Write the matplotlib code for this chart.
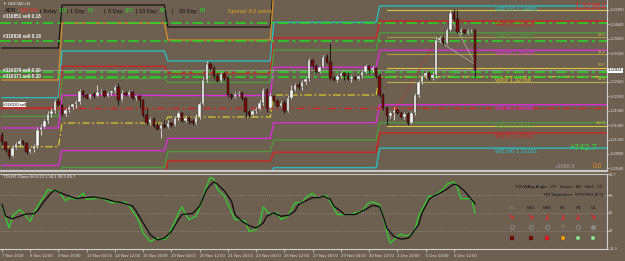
import numpy as np
import matplotlib
matplotlib.use("Agg")
import matplotlib.pyplot as plt

plt.rcParams['font.family'] = ['Liberation Sans', 'DejaVu Sans']

# ------------------------------------------------------------------ data
symbol = "USDCAD,H4"
first_open = 1.31351
closes = [1.31180, 1.30986, 1.30840, 1.31035, 1.31132, 1.31205, 1.31156, 1.30937, 1.31010, 1.31083,
          1.31472, 1.31545, 1.31691, 1.31861, 1.31934, 1.32177, 1.32080, 1.31861, 1.31958, 1.32031,
          1.32104, 1.32153, 1.32420, 1.32323, 1.32250, 1.32347, 1.32298, 1.32395, 1.32420, 1.32298,
          1.32371, 1.32420, 1.32517, 1.32201, 1.32371, 1.32323, 1.32395, 1.32250, 1.32298, 1.32201,
          1.31837, 1.31642, 1.31739, 1.31569, 1.31496, 1.31594, 1.31545, 1.31642, 1.31594, 1.31764,
          1.31885, 1.31691, 1.31764, 1.31691, 1.31642, 1.31788, 1.32104, 1.32687, 1.33076, 1.32979,
          1.32784, 1.32663, 1.32833, 1.32736, 1.32323, 1.32274, 1.32347, 1.32371, 1.32250, 1.31909,
          1.31837, 1.31934, 1.31982, 1.32128, 1.32444, 1.32007, 1.32298, 1.32177, 1.32055, 1.32128,
          1.31934, 1.32250, 1.32444, 1.32566, 1.32517, 1.32638, 1.32711, 1.33173, 1.33027, 1.32881,
          1.33003, 1.33246, 1.33124, 1.32736, 1.32687, 1.32784, 1.32857, 1.32784, 1.32711, 1.32760,
          1.32711, 1.32784, 1.32881, 1.33027, 1.32930, 1.32979, 1.32784, 1.32323, 1.32007, 1.31812,
          1.31885, 1.31958, 1.31885, 1.31788, 1.31861, 1.31642, 1.31885, 1.32323, 1.32638, 1.32784,
          1.32857, 1.32736, 1.32809, 1.33659, 1.33708, 1.33586, 1.33902, 1.34315, 1.34169, 1.33853,
          1.33902, 1.33829, 1.33878, 1.33902, 1.32930]
highs = [1.31423, 1.31205, 1.31035, 1.31107, 1.31180, 1.31253, 1.31229, 1.31180, 1.31035, 1.31132,
         1.31545, 1.31618, 1.31739, 1.31934, 1.32007, 1.32226, 1.32250, 1.32104, 1.32007, 1.32080,
         1.32128, 1.32201, 1.32468, 1.32444, 1.32347, 1.32371, 1.32395, 1.32566, 1.32468, 1.32444,
         1.32420, 1.32444, 1.32566, 1.32614, 1.32444, 1.32420, 1.32444, 1.32420, 1.32323, 1.32323,
         1.32226, 1.32007, 1.31788, 1.31788, 1.31666, 1.31642, 1.31715, 1.31715, 1.31666, 1.31812,
         1.31934, 1.31909, 1.31812, 1.31812, 1.31739, 1.31861, 1.32153, 1.32760, 1.33149, 1.33124,
         1.33027, 1.32857, 1.32881, 1.32881, 1.32784, 1.32371, 1.32395, 1.32420, 1.32420, 1.32274,
         1.31958, 1.31982, 1.32031, 1.32201, 1.32493, 1.32493, 1.32371, 1.32323, 1.32226, 1.32177,
         1.32201, 1.32323, 1.32566, 1.32614, 1.32638, 1.32687, 1.32760, 1.33222, 1.33197, 1.33076,
         1.33027, 1.33295, 1.33319, 1.33586, 1.32784, 1.32833, 1.32906, 1.32881, 1.32881, 1.32809,
         1.32784, 1.32809, 1.32930, 1.33076, 1.33052, 1.33027, 1.33003, 1.32833, 1.32371, 1.32055,
         1.31934, 1.32031, 1.31982, 1.31934, 1.31909, 1.31909, 1.31934, 1.32371, 1.32687, 1.32833,
         1.32906, 1.32906, 1.32881, 1.33732, 1.33756, 1.33756, 1.33951, 1.34388, 1.34412, 1.34388,
         1.33951, 1.33926, 1.33926, 1.33926, 1.33926]
lows = [1.31107, 1.30937, 1.30767, 1.30816, 1.31010, 1.31083, 1.31107, 1.30889, 1.30913, 1.30937,
        1.31035, 1.31351, 1.31521, 1.31642, 1.31788, 1.31885, 1.32055, 1.31812, 1.31812, 1.31909,
        1.31982, 1.32007, 1.32104, 1.32274, 1.32226, 1.32226, 1.32250, 1.32274, 1.32347, 1.32274,
        1.32274, 1.32323, 1.32371, 1.32080, 1.32177, 1.32298, 1.32298, 1.32201, 1.32201, 1.32007,
        1.31788, 1.31594, 1.31594, 1.31545, 1.31472, 1.31278, 1.31521, 1.31521, 1.31545, 1.31569,
        1.31715, 1.31666, 1.31666, 1.31618, 1.31594, 1.31618, 1.31739, 1.32080, 1.32638, 1.32930,
        1.32736, 1.32638, 1.32638, 1.32687, 1.32274, 1.32226, 1.32250, 1.32298, 1.32201, 1.31788,
        1.31788, 1.31812, 1.31885, 1.31958, 1.32080, 1.31909, 1.31982, 1.32153, 1.32031, 1.32031,
        1.31885, 1.31909, 1.32226, 1.32420, 1.32468, 1.32444, 1.32590, 1.32663, 1.32979, 1.32857,
        1.32857, 1.32979, 1.33100, 1.32687, 1.32663, 1.32638, 1.32736, 1.32687, 1.32687, 1.32638,
        1.32687, 1.32687, 1.32736, 1.32857, 1.32857, 1.32881, 1.32736, 1.32274, 1.31958, 1.31594,
        1.31764, 1.31715, 1.31861, 1.31764, 1.31739, 1.31594, 1.31618, 1.31837, 1.32274, 1.32590,
        1.32736, 1.32687, 1.32687, 1.32736, 1.33610, 1.33538, 1.33562, 1.33878, 1.34121, 1.33829,
        1.33805, 1.33805, 1.33805, 1.33853, 1.32760]

# weekly pivot levels (one value per week; weeks start at these bars)
week_starts = [0, 17, 47, 77, 107]
WR100 = [1.32257, 1.33392, 1.33149, 1.34089, 1.34485]
WR78 = [1.32002, 1.33018, 1.32858, 1.33711, 1.34116]
WR61 = [1.31802, 1.32724, 1.32629, 1.33414, 1.33832]
WR38 = [1.31521, 1.32311, 1.32308, 1.32997, 1.33410]
WPP = [1.31066, 1.31642, 1.31788, 1.32322, 1.32768]
WS38 = [1.30612, 1.30973, 1.31268, 1.31647, 1.32088]
WS61 = [1.30330, 1.30560, 1.30947, 1.31230, 1.31651]
WS78 = [1.30130, 1.30266, 1.30718, 1.30933, 1.31401]
WS100 = [1.29875, 1.29892, 1.30427, 1.30555, 1.31031]
black_level = [1.33465, 1.34510, 1.33975, 1.35120, 1.35120]
orange_level = [1.32687, 1.34072, 1.33659, 1.34870, 1.34870]

order_lines = [1.34079, 1.33642, 1.32889, 1.32748]
order_labels = ["#316851 sell 0.18", "#316836 sell 0.18", "#316379 sell 0.20", "#316371 sell 0.20"]
stop_line = 1.32007
bid = 1.32924

fib_high = 1.34388
fib_low = 1.31576
fib_start = 109
fib_ratios = [0.0, 23.6, 38.2, 50.0, 61.8, 100.0]

price_ticks = [1.34390, 1.34040, 1.33690, 1.33340, 1.32640, 1.32290,
               1.31940, 1.31590, 1.31240, 1.30890, 1.30540]
time_tick_bars = [0, 8, 16, 24, 32, 40, 48, 56, 64, 72, 80, 88, 96, 104, 112, 120, 128]
time_tick_labels = ["7 Nov 2018", "8 Nov 12:00", "9 Nov 20:00", "13 Nov 04:00", "14 Nov 12:00",
                    "15 Nov 20:00", "19 Nov 04:00", "20 Nov 12:00", "21 Nov 20:00", "23 Nov 04:00",
                    "26 Nov 12:00", "27 Nov 20:00", "29 Nov 04:00", "30 Nov 12:00", "3 Dec 20:00",
                    "5 Dec 04:00", "6 Dec 12:00"]

# TDI indicator
tdi_green_bars = [0, 2, 3, 5, 6, 8, 9, 11, 12, 13, 14, 16, 18, 19, 21, 23, 24, 26, 28, 30, 31, 33, 35,
                  36, 38, 39, 40, 42, 43, 44, 46, 47, 49, 50, 51, 52, 53, 55, 56, 58, 59, 60, 61, 63,
                  64, 66, 67, 69, 70, 72, 73, 74, 75, 76, 78, 79, 81, 82, 83, 85, 86, 88, 89, 90, 91,
                  92, 94, 95, 97, 99, 100, 102, 103, 104, 105, 107, 108, 109, 110, 112, 113, 114, 116,
                  117, 118, 120, 121, 122, 123, 125, 126, 128, 129, 130, 132, 133, 134]
tdi_green = [57.0, 34.7, 46.7, 53.6, 50.1, 41.5, 50.1, 62.2, 67.3, 74.2, 72.5, 72.5, 62.2, 65.6, 63.9,
             70.1, 63.9, 64.6, 65.6, 62.2, 60.5, 60.5, 61.2, 57.0, 46.7, 39.8, 29.5, 20.9, 22.6, 24.3,
             22.6, 26.1, 41.5, 50.1, 56.3, 48.4, 43.3, 46.7, 55.3, 77.7, 86.3, 84.5, 74.2, 67.3, 58.7,
             43.3, 43.3, 41.5, 31.2, 32.9, 39.8, 56.3, 51.9, 48.4, 50.1, 43.3, 46.7, 53.6, 60.5, 60.5,
             65.6, 70.1, 65.6, 65.6, 67.3, 67.3, 55.3, 48.4, 48.4, 48.4, 50.1, 51.9, 57.0, 60.5, 61.2,
             58.7, 46.7, 31.2, 19.2, 26.1, 28.5, 26.7, 27.8, 33.0, 46.7, 60.5, 67.3, 66.6, 69.0, 74.2,
             79.4, 81.8, 75.9, 64.6, 64.6, 64.6, 49.7]
tdi_signal_bars = [0, 1, 3, 5, 7, 9, 10, 12, 14, 15, 17, 19, 21, 23, 26, 29, 32, 34, 37, 38, 40, 42, 44,
                   46, 48, 50, 51, 54, 56, 58, 60, 61, 63, 65, 66, 68, 70, 72, 74, 75, 77, 79, 81, 83,
                   84, 86, 88, 90, 91, 93, 94, 96, 97, 100, 101, 103, 105, 107, 108, 109, 111, 113, 115,
                   116, 118, 119, 121, 122, 124, 126, 128, 129, 131, 132, 133, 134]
tdi_signal = [58.7, 46.7, 44.0, 46.7, 49.1, 49.1, 51.9, 62.2, 70.8, 73.2, 69.7, 67.3, 64.6, 65.6, 66.3,
              64.6, 61.5, 60.5, 57.0, 51.9, 39.8, 27.8, 22.6, 24.3, 31.2, 43.3, 48.4, 49.5, 57.0, 74.2,
              81.8, 79.4, 72.5, 62.2, 48.4, 41.5, 37.1, 34.7, 39.8, 46.7, 50.1, 46.7, 47.4, 51.9, 58.7,
              62.2, 65.6, 65.6, 67.3, 63.9, 57.0, 51.9, 48.4, 48.4, 50.1, 53.6, 57.7, 56.3, 46.7, 34.7,
              26.1, 23.3, 24.3, 27.8, 38.1, 50.1, 63.9, 66.6, 70.1, 74.2, 79.4, 78.3, 72.5, 68.0, 63.9,
              59.4]
tdi_levels = [68, 50, 32]
tdi_ticks = [89.7, 68, 50, 32, 13.3]

tf_names = ["M5", "M15", "M30", "H1", "H4", "D1"]
tf_arrows = ["↘", "↘", "↓", "↓", "↓", "↘"]
tf_square_colors = ["#7a0000", "#7a0000", "#ff1010", "#ffa500", "#90ee90", "#90ee90"]

# ------------------------------------------------------------------ layout
W, H = 625, 261
BG = '#6e6050'
FG = '#e6e6e6'
fig = plt.figure(figsize=(W / 100, H / 100), dpi=100)
fig.patch.set_facecolor(BG)

def fxy(px, py):
    return px / W, 1 - py / H

def T(px, py, s, color=FG, size=4.0, ha='left', **kw):
    x, y = fxy(px, py)
    fig.text(x, y, s, color=color, fontsize=size, ha=ha, va='center', **kw)

XL = (-0.567, 171.39)
ax = fig.add_axes([0, 1 - 171 / H, 607 / W, 171 / H])
ax.set_facecolor(BG)
ax.set_xlim(*XL)
ax.set_ylim(1.30476, 1.34631)

n = len(closes)
xb = np.arange(n)
c = np.array(closes)
o = np.array([first_open] + closes[:-1])
hi = np.maximum(np.array(highs), np.maximum(o, c))
lo = np.minimum(np.array(lows), np.minimum(o, c))

# stepped weekly lines
week_len = np.diff(week_starts + [n])
x_line = np.append(xb, XL[1])

def weekly(levels):
    y = np.repeat(levels, week_len)
    return np.append(y, levels[-1])

piv_style = [
    (WR100, '#22c4cc', '-'), (WR78, '#d81e1e', '-'), (WR61, '#4aa03a', '-'),
    (WR38, '#e22ae2', '-'), (WPP, '#d8c82a', (0, (6, 2, 1.5, 2))), (WS38, '#e22ae2', '-'),
    (WS61, '#4aa03a', '-'), (WS78, '#d81e1e', '-'), (WS100, '#22c4cc', '-'),
]
ax.plot(x_line, weekly(black_level), color='#141414', lw=0.9, zorder=1)
ax.plot(x_line, weekly(orange_level), color='#d8902a', lw=0.9, zorder=1)
for lv, col, ls in piv_style:
    ax.plot(x_line, weekly(lv), color=col, lw=0.9, ls=ls, zorder=1)

# fibonacci levels (current week)
fib_cols = ['#d8c840', '#9aa040', '#b0a040', '#d8c840', '#b8b050', '#d8c840']
for r, col in zip(fib_ratios, fib_cols):
    lvl = fib_high - r / 100 * (fib_high - fib_low)
    ax.plot([fib_start, XL[1]], [lvl, lvl], color=col, lw=0.8, zorder=1)
    if r > 0:
        ax.annotate(f"{r:.1f}", (170.9, lvl), xytext=(0, 0.5), textcoords='offset points',
                    ha='right', va='bottom', fontsize=2.8, color='#d8c840', zorder=6)

# order lines
for lv in order_lines:
    ax.axhline(lv, color='#22dd22', lw=1.1, ls=(0, (7, 2.5, 2, 2.5)), zorder=2)
ax.axhline(stop_line, color='#e02020', lw=0.9, ls=(0, (6, 2.5, 1.5, 2.5)), zorder=2)
ax.axhline(bid, color='#a8a8a8', lw=0.5, zorder=2)

# trend helper lines
ax.plot([110.5, 123.2], [1.31837, 1.33659], color='#e02020', lw=0.7, ls=':', zorder=2)
ax.plot([123.2, 134.3], [1.33659, 1.33052], color='#b0b0b0', lw=0.5, zorder=2)
ax.plot([127.4, 134.3], [1.34145, 1.33052], color='#b0b0b0', lw=0.5, zorder=2)
ax.plot([123.4, 134.3], [1.32736, 1.32979], color='#b0b0b0', lw=0.5, ls=':', zorder=2)

# candles
up = c >= o
body_lo = np.minimum(o, c)
body_h = np.maximum(np.abs(c - o), 0.00004)
ax.vlines(xb[up], lo[up], hi[up], color='#e8e8e8', lw=0.6, zorder=3)
ax.vlines(xb[~up], lo[~up], hi[~up], color='#0a0a0a', lw=0.6, zorder=3)
ax.bar(xb[up], body_h[up], bottom=body_lo[up], width=0.7, color='#ffffff',
       edgecolor='#2a2a2a', lw=0.3, zorder=4)
ax.bar(xb[~up], body_h[~up], bottom=body_lo[~up], width=0.7, color='#7a0a0a',
       edgecolor='#0a0a0a', lw=0.3, zorder=4)

# pivot labels (current week)
piv_names = ["WR100", "WR78", "WR61", "WR38", "WPP", "WS38", "WS61", "WS78", "WS100"]
for name, (lv, col, ls) in zip(piv_names, piv_style):
    ax.annotate(f"{name} {lv[-1]:.5f}", (139.7, lv[-1]), xytext=(0, -0.8),
                textcoords='offset points', ha='left', va='top', fontsize=4.2,
                color=col, zorder=6)

# axes styling main
for s in ['top', 'left']:
    ax.spines[s].set_visible(False)
ax.spines['right'].set_color('#d0d0d0')
ax.spines['right'].set_linewidth(0.8)
ax.spines['bottom'].set_color('#c8c8c8')
ax.spines['bottom'].set_linewidth(1.6)
ax.set_xticks([])
ax.yaxis.tick_right()
ax.set_yticks(price_ticks)
ax.set_yticklabels([f"{p:.5f}" for p in price_ticks])
ax.tick_params(axis='y', direction='out', length=1.2, width=0.5, colors='#d8d8d8',
               labelsize=2.9, pad=0.4)
ax.text(1.0015, bid, f"{bid:.5f}", transform=ax.get_yaxis_transform(), fontsize=2.9,
        color='black', va='center', ha='left', clip_on=False, zorder=10,
        bbox=dict(boxstyle='square,pad=0.12', fc='white', ec='none'))

# ------------------------------------------------------------------ TDI panel
ax2 = fig.add_axes([0, 1 - 249 / H, 607 / W, 75 / H])
ax2.set_facecolor(BG)
ax2.set_xlim(*XL)
ax2.set_ylim(13.3, 89.7)
for lv in tdi_levels:
    ax2.axhline(lv, color='#a0a0a0', lw=0.5, ls=(0, (1, 2)), zorder=1)
ax2.plot(tdi_green_bars, tdi_green, color='#2ed02e', lw=0.9, zorder=3)
ax2.plot(tdi_signal_bars, tdi_signal, color='#0a0a0a', lw=0.9, zorder=3)
ax2.spines['left'].set_visible(False)
ax2.spines['top'].set_color('#c8c8c8')
ax2.spines['top'].set_linewidth(0.8)
ax2.spines['right'].set_color('#d0d0d0')
ax2.spines['right'].set_linewidth(0.8)
ax2.spines['bottom'].set_color('#d0d0d0')
ax2.spines['bottom'].set_linewidth(0.8)
ax2.yaxis.tick_right()
ax2.set_yticks(tdi_ticks)
ax2.set_yticklabels(["89.7", "68", "50", "32", "13.3"])
ax2.tick_params(axis='y', direction='out', length=1.2, width=0.5, colors='#d8d8d8',
                labelsize=2.9, pad=0.4)
ax2.set_xticks(time_tick_bars)
ax2.set_xticklabels(time_tick_labels, ha='left')
ax2.tick_params(axis='x', direction='out', length=2.5, width=0.5, colors='#d8d8d8',
                labelsize=3.1, pad=1)

# ------------------------------------------------------------------ texts
T(2, 4, "▼", color='#e0e0e0', size=2.6)
T(8, 4, symbol, color='#e8e8e8', size=2.9)
hdr = [(5, "ADR:", '#101010'), (20, "120.4%", '#ff2a2a'), (39.5, "|", '#101010'),
       (43, "Today:", '#101010'), (59, "115", '#22e022'), (66.7, "|", '#101010'),
       (70, "1 Day:", '#101010'), (88, "90", '#22e022'), (104, "|", '#101010'),
       (108, "5 Day:", '#101010'), (125, "101", '#22e022'), (135, "|", '#101010'),
       (139, "10 Day:", '#101010'), (160, "92", '#22e022'), (172, "|", '#101010'),
       (179, "20 Day:", '#101010'), (200, "86", '#22e022'), (228, "Spread: 6.0 points", '#e0a020')]
for px, s, col in hdr:
    T(px, 11, s, color=col, size=4.0)

for py, s in zip([17, 36.5, 70.5, 76], order_labels):
    T(3, py, s, color='#f4f4f4', size=3.3, fontweight='bold')
T(3, 104.5, "#316330 sell", color='#202020', size=3.0,
  bbox=dict(boxstyle='square,pad=0.1', fc='#f0f0f0', ec='none'))

T(574, 6.5, "1.32964", color='#ff2020', size=6.3)
T(570, 147, "+742.7", color='#30e030', size=6.5)
T(555, 167, "+2060.9", color='#a8a8a8', size=4.1)
T(593, 167, "0.0", color='#e08a20', size=4.9)

T(3, 177, "TDI-RT-Clone 66.0 22.1 54.1 58.3 49.7", color='#f0f0f0', size=3.1)
T(603, 187, "TDI WAvg Angle: -79°  Green: -84°  Red: -73°", color='#101010', size=3.2, ha='right')
T(603, 195, "TDI Seperation: STRONG [6.5]", color='#101010', size=3.2, ha='right')

tf_x = [511.5, 531, 547, 562.5, 578, 593]
for i, (px, nm, ar, sq) in enumerate(zip(tf_x, tf_names, tf_arrows, tf_square_colors)):
    T(px, 208, nm, color='#8a8a8a' if i == 0 else '#101010', size=3.1, ha='center')
    T(px, 217, ar, color='#ff1a1a', size=5.5, ha='center', fontweight='bold',
      family='DejaVu Sans')
    x, y = fxy(px, 227)
    if i == 5:
        fig.lines.append(plt.Line2D([x], [y], marker='o', ms=2.6, color='#8a8a8a',
                                    mec='#8a8a8a', transform=fig.transFigure))
    elif i == 3:
        T(px, 227, "%", color='#9a8a6a', size=3.4, ha='center')
    else:
        fig.lines.append(plt.Line2D([x], [y], marker='o', ms=3.0, mfc='none', mew=0.7,
                                    mec='#8a8a8a', transform=fig.transFigure))
    x, y = fxy(px, 237.5)
    fig.lines.append(plt.Line2D([x], [y], marker='s', ms=3.2, mfc=sq, mec='#404040', mew=0.3,
                                transform=fig.transFigure))

fig.savefig("out.png", dpi=100, facecolor=BG)
